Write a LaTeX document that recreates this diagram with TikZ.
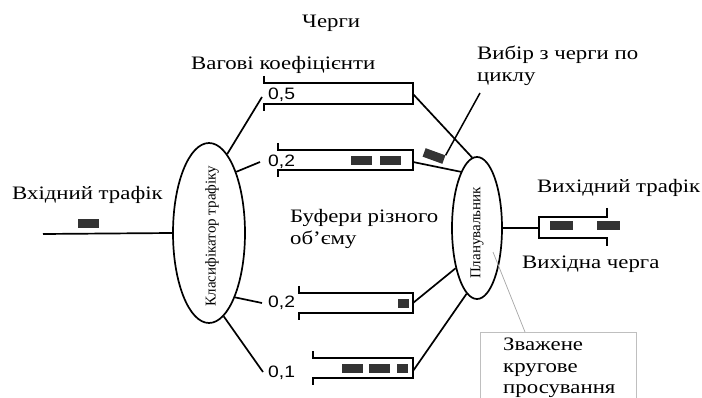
\documentclass[tikz,border=0pt]{standalone}
\usepackage{fontspec}
\setmainfont[FakeStretch=1.2]{Liberation Serif}
\newfontfamily\lblfont[FakeStretch=1.17]{Liberation Sans}
\newfontfamily\rotfont{Liberation Serif}
\usetikzlibrary{shapes.geometric}
\begin{document}
\begin{tikzpicture}[x=1pt,y=-1pt,
  ln/.style={line width=1.7pt},
  pk/.style={fill=black!80, draw=none, minimum width=21pt, minimum height=9pt, inner sep=0pt},
  txt/.style={anchor=base west, inner sep=0pt, font=\fontsize{19}{23}\selectfont},
  wt/.style={anchor=base west, inner sep=0pt, font=\lblfont\fontsize{16.5}{18}\selectfont},
  ell/.style={ellipse, draw, line width=1.7pt, inner sep=0pt},
  rot/.style={rotate=90, inner sep=0pt, font=\rotfont\fontsize{15}{16}\selectfont}]
\useasboundingbox (0,0) rectangle (702,398);

% titles
\node[txt] (tq) at (302,28) {Черги};
\node[txt] (tw) at (191,70) {Вагові коефіцієнти};
\node[txt] (ts1) at (477,60) {Вибір з черги по};
\node[txt] (ts2) at (477,82) {циклу};
\node[txt] (tin) at (12,200) {Вхідний трафік};
\node[txt] (tout) at (537,193) {Вихідний трафік};
\node[txt] (toq) at (522,269) {Вихідна черга};
\node[txt] (tb1) at (290,223) {Буфери різного};
\node[txt] (tb2) at (290,245) {об'єму};

% ellipses
\node[ell, minimum width=72pt, minimum height=180pt] (cls) at (209,233) {};
\node[rot] (clst) at (212,236) {Класифікатор трафіку};
\node[ell, minimum width=50pt, minimum height=142pt] (sch) at (477,228) {};
\node[rot] (scht) at (477,233) {Планувальник};

% input
\coordinate (inL) at (43,234);
\draw[ln] (inL) -- (cls.west);
\node[pk] (inpk) at (88.5,223.5) {};

% weight labels
\node[wt] (w1) at (268,100) {0,5};
\node[wt] (w2) at (268,167) {0,2};
\node[wt] (w3) at (268,308) {0,2};
\node[wt] (w4) at (268,377) {0,1};
\coordinate (l1) at (262,97);
\coordinate (l2) at (260,162);
\coordinate (l3) at (262,303);
\coordinate (l4) at (263,372);
\draw[ln] (cls.77) -- (l1);
\draw[ln] (cls.66) -- (l2);
\draw[ln] (cls.-68) -- (l3);
\draw[ln] (cls.-80) -- (l4);

% queues
\draw[ln] (264,76) -- (264,83) -- (413,83) -- (413,104) -- (264,104) -- (264,111);
\draw[ln] (278,143) -- (278,150) -- (413,150) -- (413,170) -- (278,170) -- (278,177);
\draw[ln] (299,286) -- (299,293) -- (413,293) -- (413,313) -- (299,313) -- (299,320);
\draw[ln] (313,351) -- (313,358) -- (413,358) -- (413,378) -- (313,378) -- (313,385);
\coordinate (q1) at (413,94);
\coordinate (q2) at (413,162);
\coordinate (q3) at (413,303);
\coordinate (q4) at (413,371);

% packets in queues
\node[pk] (p21) at (361,160.5) {};
\node[pk] (p22) at (390.5,160.5) {};
\node[pk, minimum width=11pt] (p31) at (403.5,303.5) {};
\node[pk] (p41) at (352.5,368.5) {};
\node[pk] (p42) at (379,368.5) {};
\node[pk, minimum width=11pt] (p43) at (402.5,368.5) {};

% queue to scheduler
\draw[ln] (q1) -- (sch.94);
\draw[ln] (q2) -- (sch.106);
\draw[ln] (q3) -- (sch.-118);
\draw[ln] (q4) -- (sch.-99);

% selection pointer
\node[pk, rotate=-20] (selpk) at (434,156) {};
\coordinate (selp) at (480,93);
\draw[line width=1.5pt] (selp) -- (selpk.north east);

% output queue
\coordinate (oq) at (539,228);
\draw[ln] (sch.east) -- (oq);
\draw[ln] (607,208) -- (607,217) -- (539,217) -- (539,238) -- (607,238) -- (607,246);
\node[pk, minimum width=23pt] (op1) at (561.5,226) {};
\node[pk, minimum width=23pt] (op2) at (608.5,226) {};

% WRR box
\node[draw=black!25, line width=0.7pt, anchor=north west, minimum width=156pt, minimum height=80pt, inner sep=0pt] (wrr) at (480,332) {};
\node[txt] (wr1) at (503,350) {Зважене};
\node[txt] (wr2) at (503,372) {кругове};
\node[txt] (wr3) at (503,393) {просування};
\coordinate (wp) at (493,252);
\coordinate (wrt) at (525,332);
\draw[black!35, line width=0.7pt] (wp) -- (wrt);
\end{tikzpicture}
\end{document}
